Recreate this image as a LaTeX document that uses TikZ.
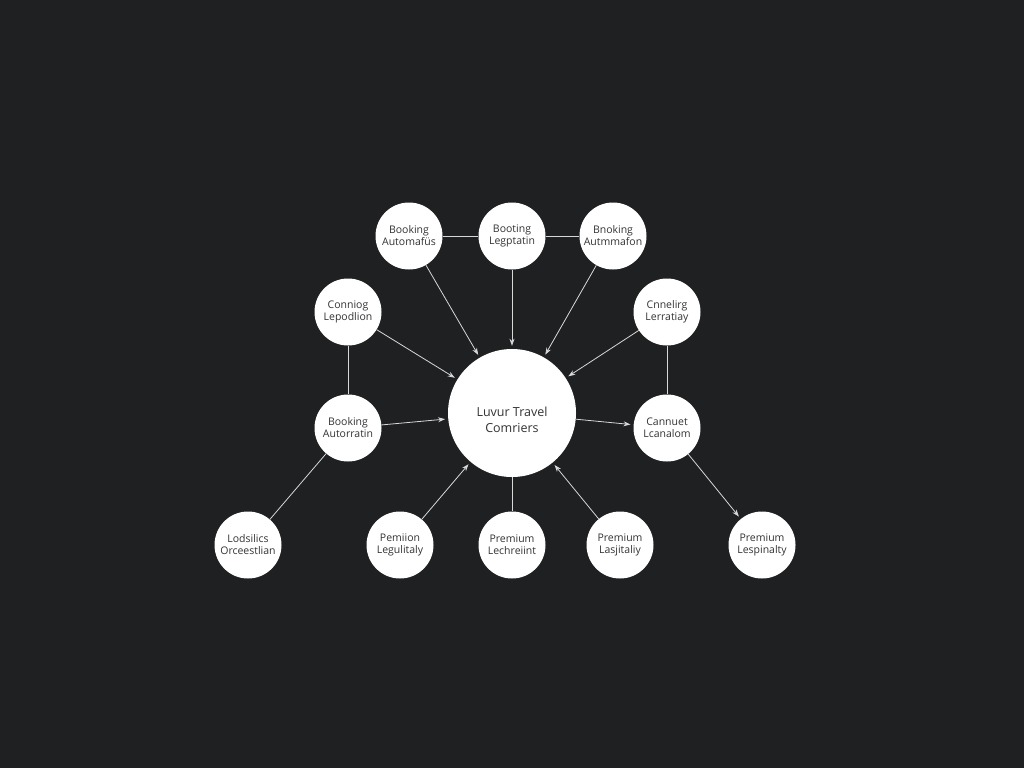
\documentclass[tikz,border=0pt]{standalone}
\usepackage{fontspec}
\setmainfont{Open Sans}
\usetikzlibrary{arrows.meta}
\definecolor{bg}{HTML}{1E2022}
\definecolor{edge}{HTML}{D8D8D8}
\definecolor{ink}{HTML}{333333}
\begin{document}
\begin{tikzpicture}[x=1pt,y=-1pt,
  small/.style={circle,fill=white,minimum size=67pt,inner sep=0pt,align=center,font=\fontsize{10.5}{12}\selectfont,text=ink},
  big/.style={circle,fill=white,minimum size=128pt,inner sep=0pt,align=center,font=\fontsize{12.5}{16}\selectfont,text=ink},
  link/.style={draw=edge,line width=0.8pt},
  arr/.style={link,-{Stealth[length=7pt,width=5pt]},shorten >=3pt}]
\fill[bg] (0,0) rectangle (1024,768);
\useasboundingbox (0,0) rectangle (1024,768);
\node[big] (c) at (512,413) {};
\node[align=center,font=\fontsize{12.5}{16}\selectfont,text=ink] (ct) at (512,420) {Luvur Travel\\Comriers};
\node[small] (t1) at (409,236) {Booking\\Automafüs};
\node[small] (t2) at (512,236) {Booting\\Legptatin};
\node[small] (t3) at (613,236) {Bnoking\\Autmmafon};
\node[small] (l1) at (348,312) {Conniog\\Lepodlion};
\node[small] (r1) at (667,312) {Cnnelirg\\Lerratiay};
\node[small] (l2) at (348,428) {Booking\\Autorratin};
\node[small] (r2) at (667,428) {Cannuet\\Lcanalom};
\node[small] (b1) at (248,545) {Lodsilics\\Orceestlian};
\node[small] (b2) at (400,545) {Pemiion\\Legulitaly};
\node[small] (b3) at (512,545) {Premium\\Lechreiint};
\node[small] (b4) at (620,545) {Premium\\Lasjitaliy};
\node[small] (b5) at (762,545) {Premium\\Lespinalty};
\draw[link] (t1) -- (t2);
\draw[link] (t2) -- (t3);
\draw[link] (l1) -- (l2);
\draw[link] (r1) -- (r2);
\draw[link] (l2) -- (b1);
\draw[link] (c) -- (b3);
\draw[arr] (t1) -- (c);
\draw[arr] (t2) -- (c);
\draw[arr] (t3) -- (c);
\draw[arr] (l1) -- (c);
\draw[arr] (r1) -- (c);
\draw[arr] (l2) -- (c);
\draw[arr] (c) -- (r2);
\draw[arr] (b2) -- (c);
\draw[arr] (b4) -- (c);
\draw[arr] (r2) -- (b5);
\end{tikzpicture}
\end{document}
